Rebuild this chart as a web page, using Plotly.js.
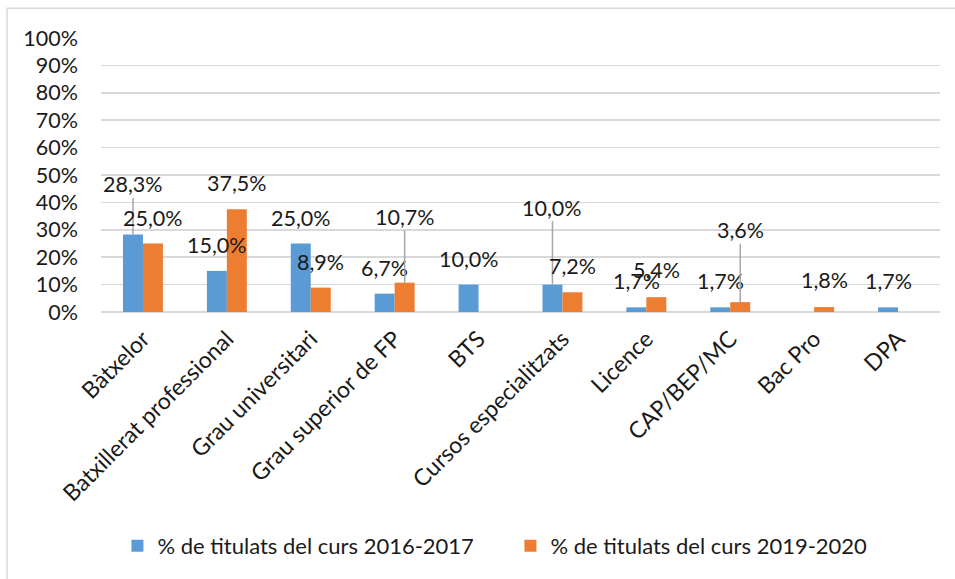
<!DOCTYPE html>
<html>
<head>
<meta charset="utf-8">
<script src="https://cdn.plot.ly/plotly-3.0.1.min.js"></script>
<style>
html,body{margin:0;padding:0;background:#fff;}
#chart{width:955px;height:579px;}
</style>
</head>
<body>
<div id="chart"></div>
<script>
// ---- data ----
var categories = ["Bàtxelor","Batxillerat professional","Grau universitari","Grau superior de FP","BTS","Cursos especialitzats","Licence","CAP/BEP/MC","Bac Pro","DPA"];
var serie2017 = [0.283, 0.150, 0.250, 0.067, 0.100, 0.100, 0.017, 0.017, null, 0.017];
var serie2020 = [0.250, 0.375, 0.089, 0.107, null, 0.072, 0.054, 0.036, 0.018, null];
var names = ["% de titulats del curs 2016-2017", "% de titulats del curs 2019-2020"];
var yTicks = [0,0.1,0.2,0.3,0.4,0.5,0.6,0.7,0.8,0.9,1.0];
var yTickText = ["0%","10%","20%","30%","40%","50%","60%","70%","80%","90%","100%"];

// ---- label placement (pixels above bar top; leader line where larger) ----
var labelLift2017 = [50, 26, 26, 26, 26, 77, 26, 26, 26, 26];
var labelLift2020 = [26, 26, 26, 66, 26, 26, 27, 72, 27, 26];

var colors = ["#5B9BD5", "#ED7D31"];
var fontFam = "Lato, 'Liberation Sans', sans-serif";
var txtColor = "#1a1a1a";

function fmt(v){ return (v*100).toFixed(1).replace(".", ",") + "%"; }

var traces = [
  {type:"bar", name:names[0], x:categories, y:serie2017, marker:{color:colors[0]}, hoverinfo:"none"},
  {type:"bar", name:names[1], x:categories, y:serie2020, marker:{color:colors[1]}, hoverinfo:"none"}
];

var annotations = [];
var series = [serie2017, serie2020];
var lifts = [labelLift2017, labelLift2020];
var barShift = [-10, 10];
for (var s=0; s<2; s++){
  for (var i=0; i<categories.length; i++){
    var v = series[s][i];
    if (v === null) continue;
    var lift = lifts[s][i];
    var a = {
      x: categories[i], y: v, xref:"x", yref:"y",
      text: fmt(v), xshift: barShift[s],
      font:{family:fontFam, size:21.5, color:txtColor},
      borderpad:0
    };
    if (lift > 30){
      a.showarrow = true; a.arrowhead = 0; a.arrowwidth = 1.5; a.arrowcolor = "#a6a6a6";
      a.ax = 0; a.ay = -lift; a.standoff = 0;
    } else {
      a.showarrow = false; a.yshift = lift; a.yanchor = "middle";
    }
    annotations.push(a);
  }
}

var layout = {
  width:955, height:579,
  margin:{l:101, r:15, t:38, b:267, pad:0},
  paper_bgcolor:"#fff", plot_bgcolor:"#fff",
  font:{family:fontFam, size:22, color:txtColor},
  barmode:"group", bargap:0.524, bargroupgap:0,
  showlegend:true,
  legend:{orientation:"h", x:0.488, xanchor:"center", y:-0.854, yanchor:"middle",
          font:{family:fontFam, size:22, color:txtColor}, itemwidth:30, entrywidth:348, traceorder:"normal"},
  xaxis:{type:"category", tickangle:-45, showgrid:false, zeroline:false, showline:false,
         ticks:"", ticklabelstandoff:8, tickfont:{family:fontFam, size:23, color:txtColor}, fixedrange:true},
  yaxis:{range:[0,1.0], tickvals:yTicks, ticktext:yTickText, showgrid:true,
         gridcolor:"#d9d9d9", gridwidth:1.5, zeroline:true, zerolinecolor:"#d9d9d9", zerolinewidth:1.5,
         showline:false, ticks:"", ticklabelstandoff:22,
         tickfont:{family:fontFam, size:21.5, color:txtColor}, fixedrange:true},
  annotations: annotations,
  shapes:[{type:"rect", xref:"paper", yref:"paper", x0:-0.112, x1:1.2, y0:-1.2, y1:1.109,
           line:{color:"#d9d9d9", width:1.5}, fillcolor:"rgba(0,0,0,0)", layer:"below"}]
};

Plotly.newPlot("chart", traces, layout, {displayModeBar:false, staticPlot:true});
</script>
</body>
</html>
